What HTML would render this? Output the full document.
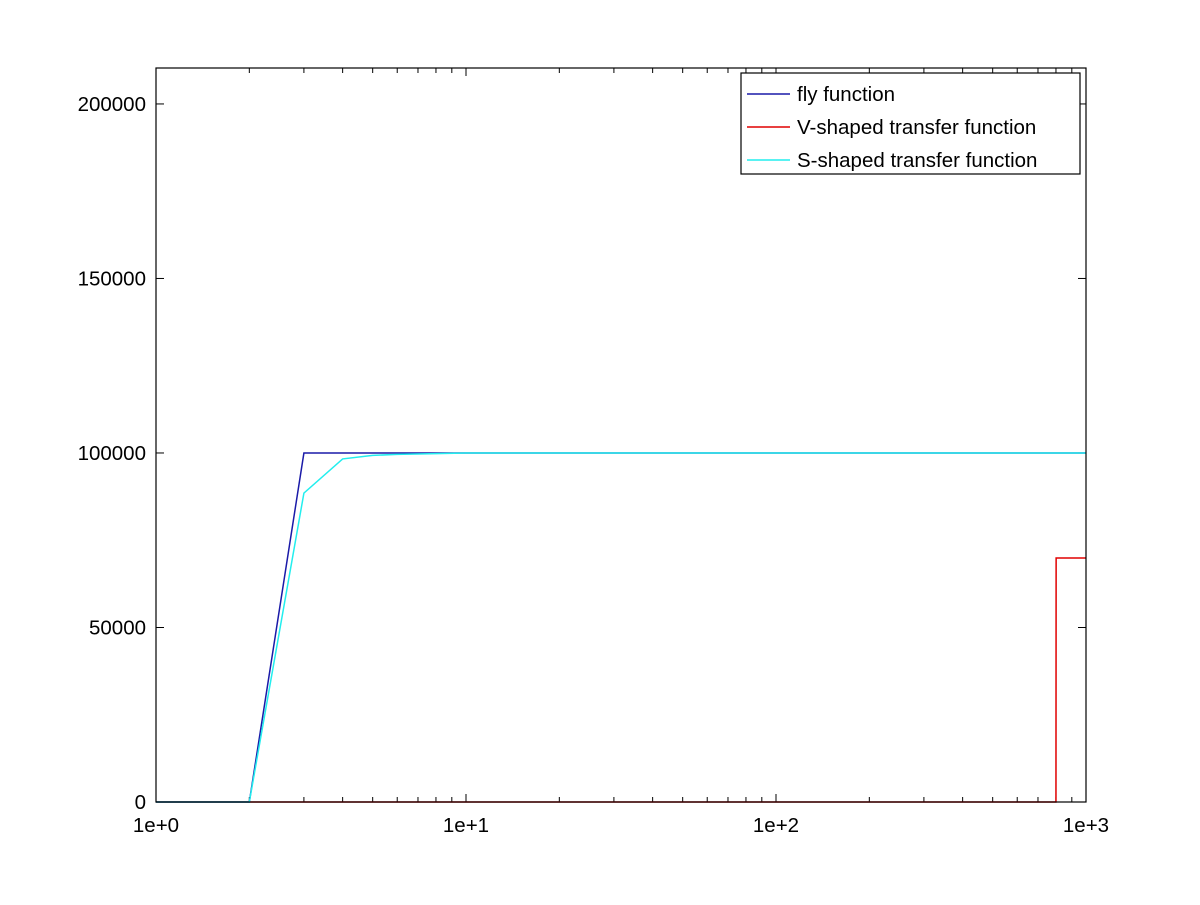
<!DOCTYPE html>
<html><head><meta charset="utf-8"><style>
body{margin:0;background:#fff}
svg text{font-family:"Liberation Sans",sans-serif;font-size:20.5px;fill:#000}
</style></head><body>
<svg id="chart" width="1200" height="900">
<rect width="1200" height="900" fill="#fff"/>
<g id="ticks"></g>
<g id="series"></g>
<rect x="156" y="68" width="930" height="734" fill="none" stroke="#000" stroke-width="1.2"/>
<g>
<rect x="741" y="73" width="339" height="101" fill="#fff" stroke="#000" stroke-width="1.2"/>
<line x1="747" y1="94" x2="790" y2="94" stroke="#1a1aa8" stroke-width="1.5"/>
<text x="797" y="101">fly function</text>
<line x1="747" y1="127" x2="790" y2="127" stroke="#e00000" stroke-width="1.5"/>
<text x="797" y="134">V-shaped transfer function</text>
<line x1="747" y1="160" x2="790" y2="160" stroke="#22eeee" stroke-width="1.5"/>
<text x="797" y="167">S-shaped transfer function</text>
</g>
</svg>
<script>
const xTickLabels=["1e+0","1e+1","1e+2","1e+3"];
const yTicks=[0,50000,100000,150000,200000];
const flyX=[1,2,3,4,5,6,7,8,9,10,100,1000];
const flyY=[0,0,100000,100000,100000,100000,100000,100000,100000,100000,100000,100000];
const vX=[1,2,10,100,800,801,1000];
const vY=[0,0,0,0,0,69900,69900];
const sX=[1,2,3,4,5,6,8,10,100,1000];
const sY=[0,0,88500,98300,99300,99600,99800,100000,100000,100000];
const L=156,R=1086,T=68,B=802,YMAX=210300;
const xs=v=>L+(R-L)*Math.log10(v)/3;
const ys=v=>B-(B-T)*v/YMAX;
const NS="http://www.w3.org/2000/svg";
const tg=document.getElementById('ticks'),sg=document.getElementById('series');
function mk(tag,at,par){const e=document.createElementNS(NS,tag);for(const k in at)e.setAttribute(k,at[k]);par.appendChild(e);return e;}
for(let d=0;d<3;d++)for(let m=1;m<=9;m++){
  const v=Math.pow(10,d)*m;const x=xs(v);const len=m===1?8:5;
  const a=mk('line',{x1:x,y1:B,x2:x,y2:B-len,stroke:'#000'},tg);
  
  
  const b=mk('line',{x1:x,y1:T,x2:x,y2:T+len,stroke:'#000'},tg);
  
  
}
xTickLabels.forEach((s,i)=>{
  const t=mk('text',{x:xs(Math.pow(10,i)),y:B+30,'text-anchor':'middle'},tg);t.textContent=s;
  
  
});
yTicks.forEach(v=>{
  const y=ys(v);
  const a=mk('line',{x1:L,y1:y,x2:L+8,y2:y,stroke:'#000'},tg);
  
  
  const b=mk('line',{x1:R,y1:y,x2:R-8,y2:y,stroke:'#000'},tg);
  
  
  const t=mk('text',{x:L-10,y:y+7,'text-anchor':'end'},tg);t.textContent=String(v);
  
  
});
function line(X,Y,c,name){
  const p=mk('polyline',{points:X.map((x,i)=>xs(x)+','+ys(Y[i])).join(' '),fill:'none',stroke:c,'stroke-width':1.5},sg);
  
  
}
line(vX,vY,'#e00000','v-shaped-line');
line(flyX,flyY,'#1a1aa8','fly-line');
line(sX,sY,'#22eeee','s-shaped-line');
</script>
</body></html>
